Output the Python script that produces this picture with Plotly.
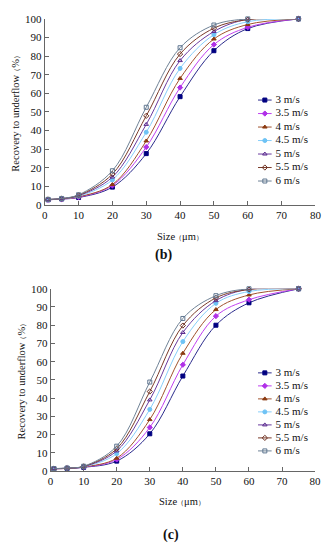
import plotly.graph_objects as go

sizes = [1, 5, 10, 20, 30, 40, 50, 60, 75]
speeds = ["3 m/s", "3.5 m/s", "4 m/s", "4.5 m/s", "5 m/s", "5.5 m/s", "6 m/s"]

rec_b_3 = [2.8, 3.2, 4.0, 9.6, 27.6, 58.2, 82.9, 94.8, 100]
rec_b_35 = [2.8, 3.2, 4.2, 10.5, 31.1, 63.1, 86.2, 95.5, 100]
rec_b_4 = [2.8, 3.3, 4.4, 11.0, 34.4, 68.0, 89.2, 97.0, 100]
rec_b_45 = [2.9, 3.3, 4.7, 13.5, 39.1, 73.4, 91.5, 98.5, 100]
rec_b_5 = [2.9, 3.4, 5.0, 15.0, 43.3, 77.6, 93.2, 99.8, 100]
rec_b_55 = [3.0, 3.4, 5.2, 16.6, 47.9, 81.1, 95.0, 99.6, 100]
rec_b_6 = [3.0, 3.5, 5.5, 18.4, 52.5, 84.5, 96.7, 100, 100]

rec_c_3 = [1.2, 1.4, 2.0, 5.4, 20.4, 52.1, 80.0, 92.3, 100]
rec_c_35 = [1.2, 1.4, 2.1, 6.3, 23.9, 58.3, 85.0, 94.0, 100]
rec_c_4 = [1.2, 1.4, 2.2, 7.0, 28.2, 64.6, 88.6, 96.6, 100]
rec_c_45 = [1.3, 1.5, 2.3, 9.5, 33.8, 71.0, 92.0, 98.5, 100]
rec_c_5 = [1.3, 1.5, 2.4, 11.0, 39.0, 76.0, 93.5, 99.8, 100]
rec_c_55 = [1.3, 1.5, 2.5, 12.2, 43.6, 79.8, 95.0, 99.6, 100]
rec_c_6 = [1.3, 1.6, 2.6, 13.6, 48.8, 83.7, 96.2, 100, 100]

series_b = [rec_b_3, rec_b_35, rec_b_4, rec_b_45, rec_b_5, rec_b_55, rec_b_6]
series_c = [rec_c_3, rec_c_35, rec_c_4, rec_c_45, rec_c_5, rec_c_55, rec_c_6]

line_colors = ["#2B2B8C", "#C040F0", "#A0522D", "#87CEFA", "#6A3A9E", "#7A3B2A", "#6F8296"]
marker_colors = ["#000080", "#B030E8", "#8B3A10", "#6EC3F5", "#5B2C8F", "#6B2E1E", "#5F7690"]
symbols = ["square", "diamond", "triangle-up", "circle", "triangle-up-open", "diamond-open", "square-open"]

FONT = "Liberation Serif, Times New Roman, serif"

# page body has an 8px default margin: figure is offset by OFF px
OFF = 8
W, H = 336 - OFF, 550 - OFF

def fx(px):
    return (px - OFF) / W

def fy(py):
    return 1 - (py - OFF) / H

fig = go.Figure()

for i, name in enumerate(speeds):
    for ser, xa, ya in ((series_b, "x", "y"), (series_c, "x2", "y2")):
        fig.add_trace(go.Scatter(
            x=sizes, y=ser[i], xaxis=xa, yaxis=ya, name=name, mode="lines+markers",
            line=dict(color=line_colors[i], width=1, shape="spline", smoothing=1.0),
            marker=dict(symbol=symbols[i], size=4, color=marker_colors[i],
                        line=dict(color=marker_colors[i], width=1)),
            showlegend=False, cliponaxis=False))

# custom compact legends on a page-pixel overlay axis
legend_tops = [96, 375]
legend_steps = [13.8, 13.3]
for top, step in zip(legend_tops, legend_steps):
    for i, name in enumerate(speeds):
        yy = top + step * i
        fig.add_trace(go.Scatter(
            x=[262, 276], y=[yy, yy], xaxis="x3", yaxis="y3", mode="lines",
            line=dict(color=line_colors[i], width=1), showlegend=False, hoverinfo="skip"))
        fig.add_trace(go.Scatter(
            x=[269], y=[yy], xaxis="x3", yaxis="y3", mode="markers",
            marker=dict(symbol=symbols[i], size=4, color=marker_colors[i],
                        line=dict(color=marker_colors[i], width=1)),
            showlegend=False, hoverinfo="skip"))
        fig.add_trace(go.Scatter(
            x=[280], y=[yy], xaxis="x3", yaxis="y3", mode="text",
            text=[name], textposition="middle right",
            textfont=dict(family=FONT, size=11, color="#111"),
            showlegend=False, hoverinfo="skip"))

axis_common = dict(showline=True, linecolor="#666", linewidth=1, ticks="inside",
                   ticklen=4, tickcolor="#666", showgrid=False, zeroline=False,
                   tickfont=dict(family=FONT, size=11, color="#111"))

fig.update_layout(
    width=W, height=H, margin=dict(l=0, r=0, t=0, b=0),
    font=dict(family=FONT),
    paper_bgcolor="white", plot_bgcolor="rgba(0,0,0,0)", showlegend=False,
    xaxis=dict(domain=[fx(42.7), fx(321)], range=[0, 80], dtick=10, anchor="y", **axis_common),
    yaxis=dict(domain=[fy(203.3), fy(13)], range=[0, 100], dtick=10, anchor="x", **axis_common),
    xaxis2=dict(domain=[fx(48.7), fx(320.7)], range=[0, 80], dtick=10, anchor="y2", **axis_common),
    yaxis2=dict(domain=[fy(475.3), fy(289)], range=[0, 100], dtick=10, anchor="x2", **axis_common),
    xaxis3=dict(domain=[0, 1], range=[OFF, 336], visible=False, anchor="y3", fixedrange=True),
    yaxis3=dict(domain=[0, 1], range=[550, OFF], visible=False, anchor="x3", fixedrange=True),
)

def ann(text, x, y, size=10, bold=False, angle=0):
    fig.add_annotation(text=("<b>%s</b>" % text) if bold else text, x=fx(x), y=fy(y),
                       xref="paper", yref="paper", showarrow=False, textangle=angle,
                       font=dict(family=FONT, size=size, color="#111"),
                       xanchor="center", yanchor="middle")

LP = "<span style='font-size:7px'>（</span>"
RP = "<span style='font-size:7px'>）</span>"
x_title = "Size" + LP + "μm" + RP
y_title = "Recovery to underflow" + LP + "%" + RP

ann(x_title, 182, 236, size=10.5)
ann("(b)", 165, 254, size=14, bold=True)
ann(y_title, 13, 108, size=10.5, angle=-90)
ann(x_title, 184, 507, size=10.5)
ann("(c)", 173, 541, size=14, bold=True)
ann(y_title, 19, 382, size=10.5, angle=-90)

fig.write_html("out.html")
